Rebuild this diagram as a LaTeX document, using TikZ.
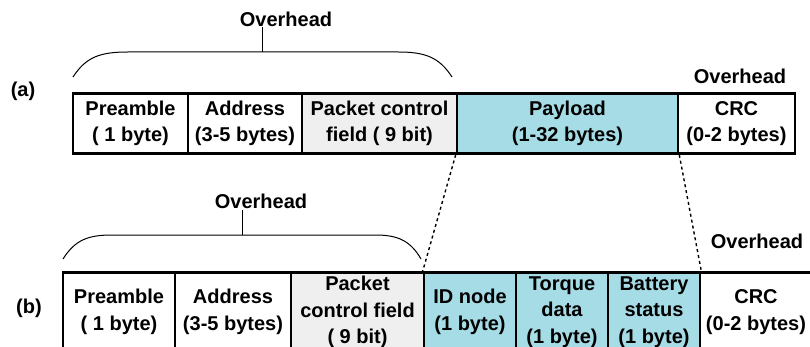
\documentclass[tikz,border=0pt]{standalone}
\usepackage{fontspec}
\setmainfont{Liberation Sans}
\begin{document}
\begin{tikzpicture}[x=1pt,y=-1pt,
  lbl/.style={font=\fontsize{20}{26.5}\selectfont\bfseries, inner sep=0pt, align=center},
  cell/.style={lbl, draw=black, line width=2.6pt, minimum height=#1},
  cellA/.style={cell=60pt},
  cellB/.style={cell=79pt},
  payfill/.style={fill=payblue},
  ctlfill/.style={fill=ctlgray},
  brace/.style={line width=1pt},
  gap/.style={line width=1.4pt, dash pattern=on 3pt off 3pt}
]
\definecolor{payblue}{RGB}{166,220,230}
\definecolor{ctlgray}{RGB}{239,239,239}
\useasboundingbox (0,0) rectangle (810,347);
\clip (0,0) rectangle (810,347);

% ---- frame (a) ----
\node[lbl] (la) at (23,91) {(a)};
\node[cellA, minimum width=115pt] (apre)  at (130.5,123.5) {Preamble\\( 1 byte)};
\node[cellA, minimum width=114pt] (aadr)  at (245,123.5)   {Address\\(3-5 bytes)};
\node[cellA, ctlfill, minimum width=155pt] (apcf) at (379.5,123.5) {Packet control\\field ( 9 bit)};
\node[cellA, payfill, minimum width=221pt] (apay) at (567.5,123.5) {Payload\\(1-32 bytes)};
\node[cellA, minimum width=117pt] (acrc)  at (736.5,123.5) {CRC\\(0-2 bytes)};

% overhead brace over the header fields of (a)
\node[lbl, anchor=base] (aoh) at (286,27) {Overhead};
\coordinate (abt) at (262,52);
\draw[brace] (73,77) .. controls (86,57) and (100,52) .. (128,52) -- (398,52)
  .. controls (425,52) and (439,57) .. (452,77);
\draw[brace] (abt) -- (262,27);
\node[lbl, anchor=base] (acoh) at (740,84) {Overhead};

% ---- frame (b) ----
\node[lbl] (lb) at (29,308) {(b)};
\node[cellB, minimum width=112pt] (bpre) at (119,312) {Preamble\\( 1 byte)};
\node[cellB, minimum width=116pt] (badr) at (233,312) {Address\\(3-5 bytes)};
\node[cellB, ctlfill, minimum width=133pt] (bpcf) at (357.5,312) {Packet\\control field\\( 9 bit)};
\node[cellB, payfill, minimum width=92pt] (bid)  at (470,312) {ID node\\(1 byte)};
\node[cellB, payfill, minimum width=92pt] (btq)  at (562,312) {Torque\\data\\(1 byte)};
\node[cellB, payfill, minimum width=92pt] (bbat) at (654,312) {Battery\\status\\(1 byte)};
\node[cellB, minimum width=112pt] (bcrc) at (756,312) {CRC\\(0-2 bytes)};

% overhead brace over the header fields of (b)
\node[lbl, anchor=base] (boh) at (261,208) {Overhead};
\coordinate (bbt) at (242,235);
\draw[brace] (63,259) .. controls (75,240) and (88,235) .. (112,235) -- (375,235)
  .. controls (397,235) and (410,240) .. (421,259);
\draw[brace] (bbt) -- (242,210);
\node[lbl, anchor=base] (bcoh) at (757,248) {Overhead};

% payload expansion lines
\draw[gap] (apay.south west) -- (bid.north west);
\draw[gap] (apay.south east) -- (bbat.north east);
\end{tikzpicture}
\end{document}
